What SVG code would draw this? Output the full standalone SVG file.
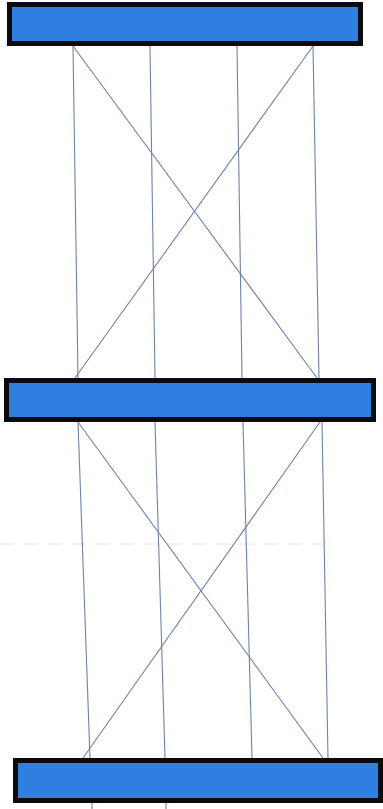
<svg xmlns="http://www.w3.org/2000/svg" width="383" height="809" viewBox="0 0 383 809">
  <style>
    .bar { fill: #2e7fe0; stroke: #0a0a0f; stroke-width: 5; }
    .ln { stroke: #6f82a8; stroke-width: 1.1; fill: none; }
    .faint { stroke: #e4e4e4; stroke-width: 1; stroke-dasharray: 14 10; fill: none; }
  </style>
  <rect width="383" height="809" fill="#ffffff"/>
  <line class="faint" x1="0" y1="544" x2="335" y2="544"/>
  <g id="connectors">
    <line class="ln" x1="73" y1="46" x2="78" y2="378"/>
    <line class="ln" x1="150" y1="46" x2="155" y2="378"/>
    <line class="ln" x1="237" y1="46" x2="242" y2="378"/>
    <line class="ln" x1="313" y1="46" x2="319" y2="378"/>
    <line class="ln" x1="73" y1="46" x2="317" y2="378"/>
    <line class="ln" x1="313" y1="46" x2="75" y2="378"/>
    <line class="ln" x1="78" y1="422" x2="90" y2="758"/>
    <line class="ln" x1="155" y1="422" x2="165" y2="758"/>
    <line class="ln" x1="243" y1="422" x2="252" y2="758"/>
    <line class="ln" x1="322" y1="422" x2="328" y2="758"/>
    <line class="ln" x1="78" y1="422" x2="323" y2="758"/>
    <line class="ln" x1="320" y1="422" x2="83" y2="758"/>
    <line class="ln" x1="92" y1="803" x2="92" y2="809"/>
    <line class="ln" x1="166" y1="803" x2="166" y2="809"/>
  </g>
  <g id="bar-top">
    <rect class="bar" x="9.5" y="4.5" width="351" height="39"/>
  </g>
  <g id="bar-middle">
    <rect class="bar" x="6.5" y="380.5" width="367" height="39"/>
  </g>
  <g id="bar-bottom">
    <rect class="bar" x="15.5" y="760.5" width="365" height="40"/>
  </g>
</svg>
